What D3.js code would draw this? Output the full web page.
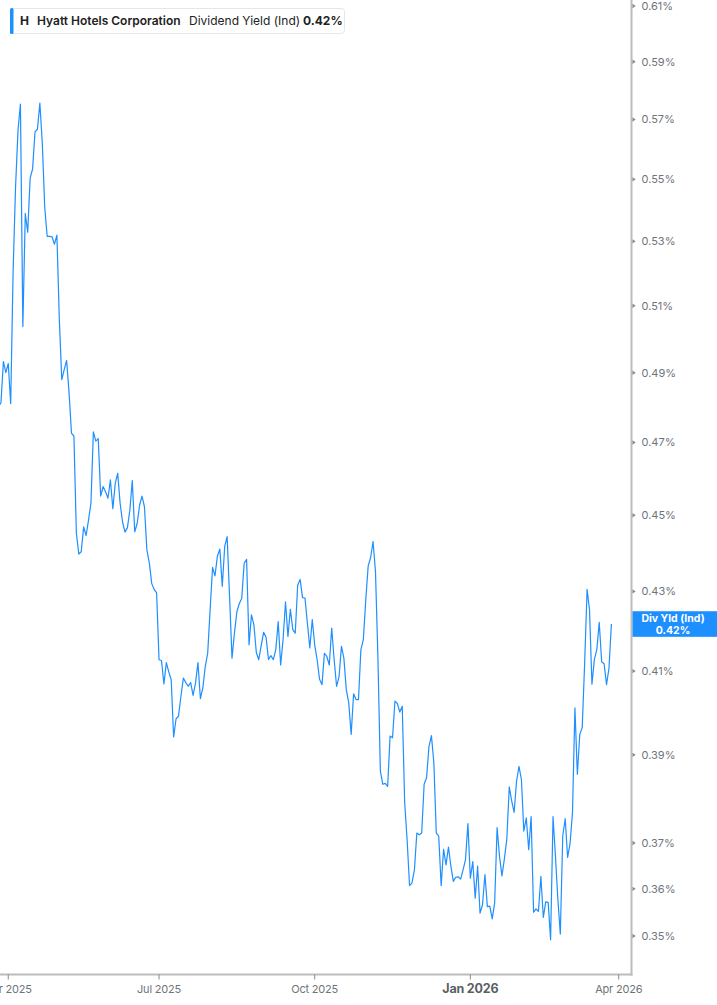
<!DOCTYPE html>
<html>
<head>
<meta charset="utf-8">
<script src="https://cdn.jsdelivr.net/npm/d3@7"></script>
<style>
  html, body { margin: 0; padding: 0; background: #fff; }
  svg { display: block; font-family: Inter, "Noto Sans", sans-serif; }
</style>
</head>
<body>
<svg id="chart" width="717" height="1005"></svg>
<script>
// Dividend yield (%) per trading day, 2025-03-25 .. 2026-03-27
const yieldValues = [
  0.4790, 0.4802, 0.4813, 0.4933, 0.4900, 0.4927, 0.4810, 0.5209, 0.5475, 0.5663,
  0.5753, 0.5037, 0.5389, 0.5329, 0.5504, 0.5534, 0.5658, 0.5667, 0.5756, 0.5620,
  0.5409, 0.5316, 0.5316, 0.5314, 0.5291, 0.5320, 0.5058, 0.4880, 0.4909, 0.4936,
  0.4842, 0.4726, 0.4718, 0.4453, 0.4397, 0.4403, 0.4469, 0.4446, 0.4487, 0.4533,
  0.4730, 0.4704, 0.4711, 0.4552, 0.4578, 0.4564, 0.4546, 0.4596, 0.4518, 0.4587,
  0.4614, 0.4532, 0.4482, 0.4455, 0.4467, 0.4514, 0.4594, 0.4456, 0.4478, 0.4527,
  0.4552, 0.4523, 0.4408, 0.4374, 0.4320, 0.4305, 0.4296, 0.4128, 0.4126, 0.4069,
  0.4121, 0.4098, 0.4079, 0.3942, 0.3985, 0.3991, 0.4039, 0.4083, 0.4072, 0.4063,
  0.4072, 0.4041, 0.4071, 0.4121, 0.4033, 0.4059, 0.4111, 0.4144, 0.4253, 0.4362,
  0.4340, 0.4392, 0.4410, 0.4313, 0.4417, 0.4443, 0.4286, 0.4132, 0.4194, 0.4248,
  0.4269, 0.4282, 0.4373, 0.4383, 0.4165, 0.4240, 0.4215, 0.4146, 0.4128, 0.4163,
  0.4196, 0.4184, 0.4129, 0.4138, 0.4128, 0.4153, 0.4223, 0.4115, 0.4178, 0.4273,
  0.4186, 0.4254, 0.4203, 0.4194, 0.4316, 0.4331, 0.4284, 0.4283, 0.4219, 0.4157,
  0.4228, 0.4165, 0.4128, 0.4080, 0.4067, 0.4144, 0.4136, 0.4115, 0.4207, 0.4128,
  0.4063, 0.4086, 0.4161, 0.4132, 0.4055, 0.4023, 0.3948, 0.4045, 0.4031, 0.4031,
  0.4153, 0.4178, 0.4278, 0.4366, 0.4388, 0.4430, 0.4351, 0.4133, 0.3862, 0.3832,
  0.3834, 0.3827, 0.3944, 0.3940, 0.4027, 0.4021, 0.4001, 0.4015, 0.3790, 0.3707,
  0.3607, 0.3613, 0.3641, 0.3722, 0.3718, 0.3722, 0.3832, 0.3847, 0.3920, 0.3945,
  0.3881, 0.3722, 0.3715, 0.3607, 0.3686, 0.3652, 0.3691, 0.3649, 0.3616, 0.3625,
  0.3626, 0.3621, 0.3641, 0.3663, 0.3743, 0.3623, 0.3659, 0.3580, 0.3649, 0.3548,
  0.3566, 0.3631, 0.3562, 0.3563, 0.3536, 0.3570, 0.3734, 0.3670, 0.3628, 0.3665,
  0.3709, 0.3826, 0.3794, 0.3768, 0.3839, 0.3873, 0.3843, 0.3726, 0.3756, 0.3685,
  0.3759, 0.3550, 0.3557, 0.3552, 0.3627, 0.3539, 0.3572, 0.3571, 0.3492, 0.3759,
  0.3670, 0.3577, 0.3504, 0.3716, 0.3754, 0.3668, 0.3699, 0.3768, 0.4011, 0.3855,
  0.3948, 0.3964, 0.4119, 0.4305, 0.4253, 0.4068, 0.4129, 0.4153, 0.4221, 0.4123,
  0.4118, 0.4067, 0.4107, 0.4217
];

// x-axis: trading-day index of each labelled month start
const xTickLabels = ["Apr 2025", "Jul 2025", "Oct 2025", "Jan 2026", "Apr 2026"];
const xTickIndex  = [5, 67, 131, 195, 256];
const xTickBold   = [false, false, false, true, false];

// y-axis tick values (%)
const yTickValues = [0.35, 0.36, 0.37, 0.39, 0.41, 0.43, 0.45, 0.47, 0.49, 0.51, 0.53, 0.55, 0.57, 0.59, 0.61];

const ticker = "H";
const companyName = "Hyatt Hotels Corporation";
const metricName = "Dividend Yield (Ind)";
const shortMetric = "Div Yld (Ind)";

const svg = d3.select("#chart");
const W = 717, H = 1005;
const plotRight = 631.5, plotBottom = 974.5;
const blue = "#1e8fff";
const axisGray = "#bcbcbc";
const labelGray = "#6f747b";

const x = d3.scaleLinear().domain([0, yieldValues.length - 1]).range([-3.9, 611.4]);
const y = d3.scaleLog().domain([0.35, 0.61]).range([936, 6]);

const fmt = v => v.toFixed(2) + "%";

// clip for plot
svg.append("defs").append("clipPath").attr("id", "plotClip")
  .append("rect").attr("x", 0).attr("y", 0).attr("width", plotRight - 1).attr("height", plotBottom - 1);

// line
const line = d3.line().x((d, i) => x(i)).y(d => y(d));
svg.append("path")
  .datum(yieldValues)
  .attr("clip-path", "url(#plotClip)")
  .attr("fill", "none")
  .attr("stroke", blue)
  .attr("stroke-width", 1.2)
  .attr("stroke-linejoin", "round")
  .attr("d", line);

// right y axis
const yAxisG = svg.append("g");
yAxisG.append("line")
  .attr("x1", plotRight).attr("x2", plotRight)
  .attr("y1", 0).attr("y2", plotBottom + 1)
  .attr("stroke", axisGray).attr("stroke-width", 2);

const yt = yAxisG.selectAll(".yt").data(yTickValues).enter().append("g")
  .attr("transform", d => `translate(${plotRight + 1},${y(d)})`);
yt.append("path").attr("d", "M0,-2.2L3.2,0L0,2.2Z").attr("fill", "#8a8a8a");
yt.append("text")
  .attr("x", 9).attr("dy", "0.35em")
  .attr("font-size", 11).attr("fill", labelGray)
  .text(d => fmt(d));

// bottom x axis
const xAxisG = svg.append("g");
xAxisG.append("line")
  .attr("x1", 0).attr("x2", plotRight + 1)
  .attr("y1", plotBottom).attr("y2", plotBottom)
  .attr("stroke", axisGray).attr("stroke-width", 2);

const xt = xAxisG.selectAll(".xt").data(xTickIndex).enter().append("g")
  .attr("transform", d => `translate(${x(d)},${plotBottom})`);
xt.append("line").attr("y1", 0).attr("y2", 5).attr("stroke", "#8a8a8a").attr("stroke-width", 1);
xt.append("text")
  .attr("y", 18).attr("text-anchor", "middle")
  .attr("font-size", (d, i) => xTickBold[i] ? 12.5 : 11)
  .attr("font-weight", (d, i) => xTickBold[i] ? 700 : 400)
  .attr("fill", (d, i) => xTickBold[i] ? "#5a5f66" : labelGray)
  .attr("letter-spacing", -0.2)
  .text((d, i) => xTickLabels[i]);

// last value label box
const lastV = yieldValues[yieldValues.length - 1];
const ly = y(lastV);
const lab = svg.append("g");
lab.append("rect")
  .attr("x", plotRight + 1).attr("y", ly - 12.8)
  .attr("width", W - plotRight - 1).attr("height", 25.6)
  .attr("fill", blue);
lab.append("text")
  .attr("x", 673).attr("y", ly - 2)
  .attr("text-anchor", "middle").attr("font-size", 10.5).attr("font-weight", 700)
  .attr("fill", "#fff").text(shortMetric);
lab.append("text")
  .attr("x", 673).attr("y", ly + 9.5)
  .attr("text-anchor", "middle").attr("font-size", 10.5).attr("font-weight", 700)
  .attr("fill", "#fff").text(fmt(lastV));

// legend
const leg = svg.append("g");
leg.append("rect")
  .attr("x", 10.5).attr("y", 8.5).attr("width", 334).attr("height", 25)
  .attr("rx", 3).attr("fill", "#fff").attr("stroke", "#e4e6ea");
leg.append("rect")
  .attr("x", 10).attr("y", 8).attr("width", 3.5).attr("height", 26)
  .attr("rx", 1.5).attr("fill", blue);
const legText = leg.append("text").attr("y", 25).attr("font-size", 12).attr("fill", "#222");
legText.append("tspan").attr("x", 20).attr("font-weight", 700).text(ticker);
legText.append("tspan").attr("x", 37).attr("font-weight", 600).text(companyName);
legText.append("tspan").attr("x", 189).attr("font-weight", 400).text(metricName);
legText.append("tspan").attr("x", 303).attr("font-weight", 700).text(fmt(lastV));
</script>
</body>
</html>
